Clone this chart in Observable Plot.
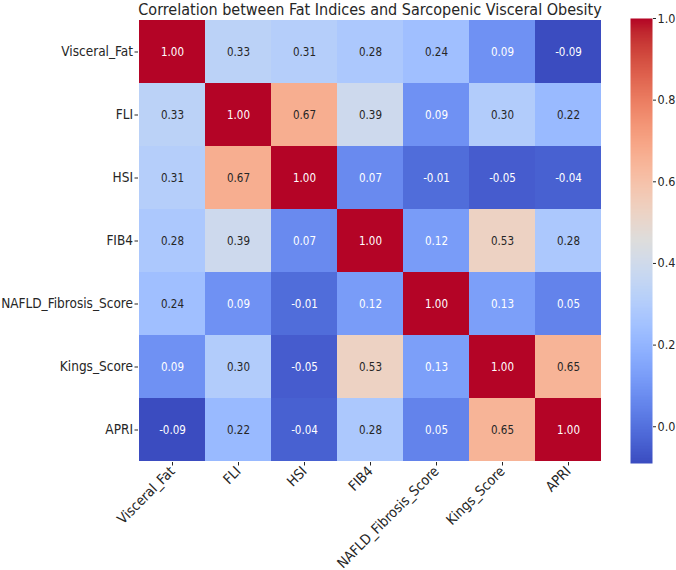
<!DOCTYPE html>
<html>
<head>
<meta charset="utf-8">
<script src="https://cdn.jsdelivr.net/npm/d3@7"></script>
<script src="https://cdn.jsdelivr.net/npm/@observablehq/plot@0.6"></script>
<style>
  body { margin: 0; background: #fff; }
  #chart { position: relative; width: 676px; height: 570px; overflow: hidden; }
  #chart svg { position: absolute; left: 0; top: 0; overflow: visible; }
</style>
</head>
<body>
<div id="chart"></div>
<script>
// Variables in the correlation matrix (same order for rows and columns)
const labels = ["Visceral_Fat", "FLI", "HSI", "FIB4", "NAFLD_Fibrosis_Score", "Kings_Score", "APRI"];

// One row of Pearson correlations per variable
const visceralFatRow = [1.00, 0.33, 0.31, 0.28, 0.24, 0.09, -0.09];
const fliRow         = [0.33, 1.00, 0.67, 0.39, 0.09, 0.30, 0.22];
const hsiRow         = [0.31, 0.67, 1.00, 0.07, -0.01, -0.05, -0.04];
const fib4Row        = [0.28, 0.39, 0.07, 1.00, 0.12, 0.53, 0.28];
const nafldRow       = [0.24, 0.09, -0.01, 0.12, 1.00, 0.13, 0.05];
const kingsRow       = [0.09, 0.30, -0.05, 0.53, 0.13, 1.00, 0.65];
const apriRow        = [-0.09, 0.22, -0.04, 0.28, 0.05, 0.65, 1.00];

const colorbarTicks = [0.0, 0.2, 0.4, 0.6, 0.8, 1.0];
const chartTitle = "Correlation between Fat Indices and Sarcopenic Visceral Obesity";

const matrix = [visceralFatRow, fliRow, hsiRow, fib4Row, nafldRow, kingsRow, apriRow];
const cells = [];
matrix.forEach((row, i) => row.forEach((value, j) => cells.push({row: labels[i], col: labels[j], value})));
const vmin = d3.min(cells, d => d.value);
const vmax = d3.max(cells, d => d.value);

// Diverging blue-white-red ramp (Moreland "coolwarm")
const coolwarmStops = [
  "rgb(59,76,192)", "rgb(68,90,204)", "rgb(77,104,215)", "rgb(87,117,225)",
  "rgb(98,130,234)", "rgb(108,142,241)", "rgb(119,154,247)", "rgb(130,165,251)",
  "rgb(141,176,254)", "rgb(152,185,255)", "rgb(163,194,255)", "rgb(174,201,253)",
  "rgb(184,208,249)", "rgb(194,213,244)", "rgb(204,217,238)", "rgb(213,219,230)",
  "rgb(221,221,221)", "rgb(229,216,209)", "rgb(236,211,197)", "rgb(241,204,185)",
  "rgb(245,196,173)", "rgb(247,187,160)", "rgb(247,177,148)", "rgb(247,166,135)",
  "rgb(244,154,123)", "rgb(241,141,111)", "rgb(236,127,99)", "rgb(229,112,88)",
  "rgb(222,96,77)", "rgb(213,80,66)", "rgb(203,62,56)", "rgb(192,40,47)",
  "rgb(180,4,38)"
];
const coolwarm = d3.piecewise(d3.interpolateRgb, coolwarmStops);
const colorOptions = {type: "linear", domain: [vmin, vmax], interpolate: coolwarm};
const colorScale = Plot.scale({color: colorOptions});

// Light text on dark cells, dark text on light cells
function luminance(c) {
  const {r, g, b} = d3.rgb(c);
  const lin = v => { v /= 255; return v <= 0.03928 ? v / 12.92 : Math.pow((v + 0.055) / 1.055, 2.4); };
  return 0.2126 * lin(r) + 0.7152 * lin(g) + 0.0722 * lin(b);
}
const textColor = d => luminance(colorScale.apply(d.value)) < 0.408 ? "#ffffff" : "#262626";

const font = "'DejaVu Sans Condensed', 'DejaVu Sans', sans-serif";

const heatmap = Plot.plot({
  width: 676,
  height: 570,
  marginLeft: 138,
  marginRight: 75,
  marginTop: 18,
  marginBottom: 108,
  style: {fontFamily: font, fontSize: "13.5px", color: "#262626", background: "transparent"},
  x: {domain: labels, padding: 0, label: null},
  y: {domain: labels, padding: 0, label: null},
  color: colorOptions,
  marks: [
    Plot.cell(cells, {x: "col", y: "row", fill: "value"}),
    Plot.text(cells, {x: "col", y: "row", text: d => d.value.toFixed(2), fill: textColor, fontSize: 11.5}),
    Plot.axisY({anchor: "left", tickSize: 3.5, tickPadding: 2, fontSize: 13.5, label: null}),
    Plot.axisX({anchor: "bottom", tickSize: 3.5, tickPadding: 3, tickRotate: -45, fontSize: 14, label: null}),
    Plot.text([chartTitle], {frameAnchor: "top", lineAnchor: "bottom", dy: -4, fontSize: 16, fill: "#262626"})
  ]
});

const colorbar = Plot.plot({
  width: 676,
  height: 570,
  marginLeft: 630,
  marginRight: 24,
  marginTop: 18,
  marginBottom: 107,
  style: {fontFamily: font, fontSize: "12.5px", color: "#262626", background: "transparent"},
  x: {domain: [0, 1], axis: null},
  y: {domain: [vmin, vmax], label: null},
  color: colorOptions,
  marks: [
    Plot.raster({x1: 0, x2: 1, y1: vmin, y2: vmax, width: 1, height: 300, fill: (x, y) => y}),
    Plot.axisY({anchor: "right", ticks: colorbarTicks, tickFormat: d3.format(".1f"), tickSize: 3, tickPadding: 2, fontSize: 12.5, label: null})
  ]
});

const root = document.getElementById("chart");
root.append(heatmap);
root.append(colorbar);
</script>
</body>
</html>
